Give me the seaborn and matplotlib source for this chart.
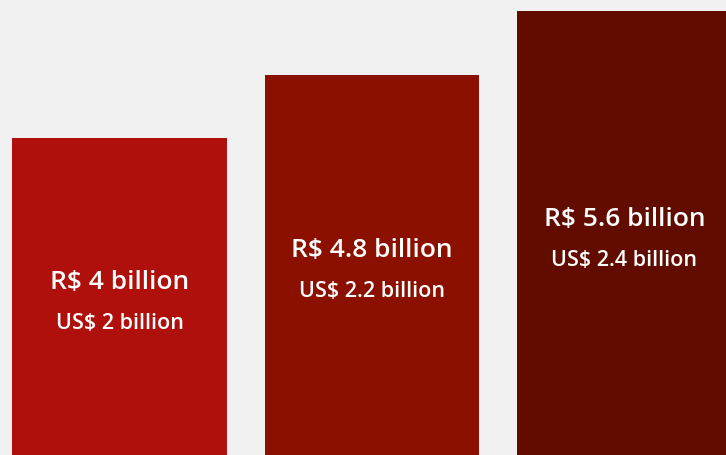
import pandas as pd
import seaborn as sns
import matplotlib.pyplot as plt

categories = ['A', 'B', 'C']
brl = [4, 4.8, 5.6]
usd = [2, 2.2, 2.4]
brl_labels = ['R$ 4 billion', 'R$ 4.8 billion', 'R$ 5.6 billion']
usd_labels = ['US$ 2 billion', 'US$ 2.2 billion', 'US$ 2.4 billion']
colors = ['#B0100C', '#8B1000', '#620C00']

df = pd.DataFrame({'cat': categories, 'brl': brl})

sns.set_style('white')
plt.rcParams['font.family'] = ['Open Sans', 'DejaVu Sans']

fig = plt.figure(figsize=(7.26, 4.55), dpi=100, facecolor='#F1F1F1')
ax = fig.add_axes([0, 0, 1, 1])
ax.set_facecolor('#F1F1F1')

sns.barplot(data=df, x='cat', y='brl', hue='cat', palette=colors,
            width=0.85, saturation=1, legend=False, linewidth=0, ax=ax)

for i, v in enumerate(brl):
    ax.annotate(brl_labels[i], (i, v / 2), xytext=(0, 10), textcoords='offset points',
                ha='center', va='center', color='white', fontsize=19, fontweight='semibold')
    ax.annotate(usd_labels[i], (i, v / 2), xytext=(0, -19.5), textcoords='offset points',
                ha='center', va='center', color='white', fontsize=15.5, fontweight='semibold')

ax.set_xlim(-0.473, 2.402)
ax.set_ylim(0, 5.74)
ax.axis('off')

fig.savefig('out.png', dpi=100, facecolor='#F1F1F1')
